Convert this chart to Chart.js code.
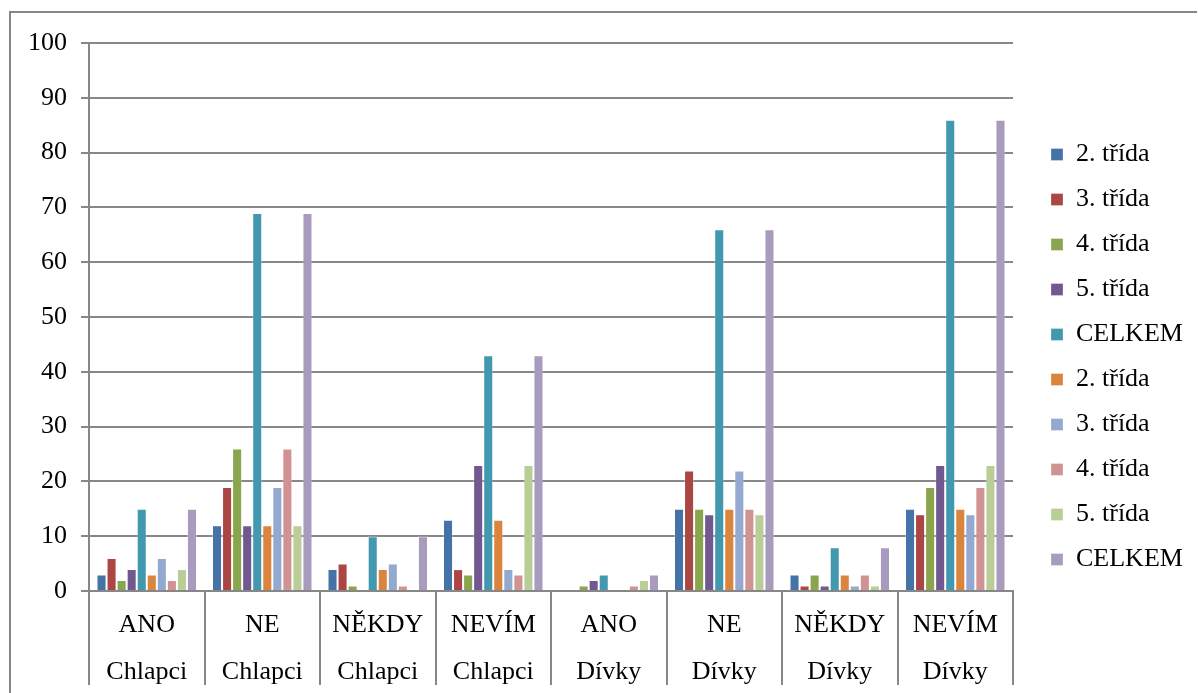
<!DOCTYPE html>
<html>
<head>
<meta charset="utf-8">
<script src="https://cdn.jsdelivr.net/npm/chart.js@4/dist/chart.umd.min.js"></script>
<style>
  html, body { margin: 0; padding: 0; background: #fff; }
  #wrap { position: relative; width: 1198px; height: 693px; }
</style>
</head>
<body>
<div id="wrap"><canvas id="chart" width="1198" height="693"></canvas></div>
<script>
// categories (answer / group)
const categories = [
  ['ANO', 'Chlapci'], ['NE', 'Chlapci'], ['NĚKDY', 'Chlapci'], ['NEVÍM', 'Chlapci'],
  ['ANO', 'Dívky'], ['NE', 'Dívky'], ['NĚKDY', 'Dívky'], ['NEVÍM', 'Dívky']
];

const seriesLabels = ['2. třída', '3. třída', '4. třída', '5. třída', 'CELKEM',
                      '2. třída', '3. třída', '4. třída', '5. třída', 'CELKEM'];

const trida2 = [3, 12, 4, 13, 0, 15, 3, 15];
const trida3 = [6, 19, 5, 4, 0, 22, 1, 14];
const trida4 = [2, 26, 1, 3, 1, 15, 3, 19];
const trida5 = [4, 12, 0, 23, 2, 14, 1, 23];
const celkem = [15, 69, 10, 43, 3, 66, 8, 86];
const trida2b = [3, 12, 4, 13, 0, 15, 3, 15];
const trida3b = [6, 19, 5, 4, 0, 22, 1, 14];
const trida4b = [2, 26, 1, 3, 1, 15, 3, 19];
const trida5b = [4, 12, 0, 23, 2, 14, 1, 23];
const celkemB = [15, 69, 10, 43, 3, 66, 8, 86];

const yTicks = [0, 10, 20, 30, 40, 50, 60, 70, 80, 90, 100];

const colors = ['#4572A7', '#AA4643', '#89A54E', '#71588F', '#4198AF',
                '#DB843D', '#93A9CF', '#D19392', '#B9CD96', '#A99BBD'];
const values = [trida2, trida3, trida4, trida5, celkem, trida2b, trida3b, trida4b, trida5b, celkemB];

const gridColor = '#878787';
const font = { family: '"Liberation Serif", "Times New Roman", serif', size: 26 };

// frame around the whole chart (left and top edge visible)
const framePlugin = {
  id: 'frame',
  beforeDraw(chart) {
    const ctx = chart.ctx;
    ctx.save();
    ctx.fillStyle = '#fff';
    ctx.fillRect(0, 0, chart.width, chart.height);
    ctx.strokeStyle = gridColor;
    ctx.lineWidth = 2;
    ctx.beginPath();
    ctx.moveTo(10, chart.height);
    ctx.lineTo(10, 12);
    ctx.lineTo(chart.width - 1, 12);
    ctx.stroke();
    ctx.restore();
  }
};

// fixed legend width, items indented a bit from the plot
const legendPlugin = {
  id: 'legendFix',
  beforeInit(chart) {
    const legend = chart.legend;
    const fit = legend.fit;
    legend.fit = function () {
      fit.call(this);
      this.width = 185;
    };
  },
  afterLayout(chart) {
    const l = chart.legend;
    l.left += 19;
    l.right += 19;
    l.top -= 9;
    l.bottom -= 9;
  }
};

new Chart(document.getElementById('chart'), {
  type: 'bar',
  data: {
    labels: categories,
    datasets: values.map((v, i) => ({
      label: seriesLabels[i],
      data: v,
      backgroundColor: colors[i],
      borderColor: 'rgba(255,255,255,0.3)',
      borderWidth: 1,
      categoryPercentage: 0.87,
      barPercentage: 1
    }))
  },
  options: {
    responsive: false,
    animation: false,
    layout: { padding: { top: 43, right: 0, bottom: 4, left: 0 } },
    scales: {
      x: {
        grid: {
          offset: true,
          drawOnChartArea: false,
          tickLength: 94,
          color: gridColor,
          lineWidth: 2
        },
        border: { color: gridColor, width: 2 },
        ticks: {
          color: '#000',
          font: { ...font, lineHeight: 1.81 },
          padding: -83,
          maxRotation: 0,
          autoSkip: false
        },
        afterFit(scale) { scale.height = 98; }
      },
      y: {
        min: 0,
        max: 100,
        afterBuildTicks(scale) { scale.ticks = yTicks.map(v => ({ value: v })); },
        grid: { color: gridColor, lineWidth: 2, tickLength: 8 },
        border: { color: gridColor, width: 2 },
        ticks: { color: '#000', font: font, padding: 14 },
        afterFit(scale) { scale.width = 89; }
      }
    },
    plugins: {
      legend: {
        position: 'right',
        labels: {
          color: '#000',
          font: font,
          boxWidth: 12,
          boxHeight: 12,
          padding: 19
        }
      },
      tooltip: { enabled: false }
    }
  },
  plugins: [framePlugin, legendPlugin]
});
</script>
</body>
</html>
